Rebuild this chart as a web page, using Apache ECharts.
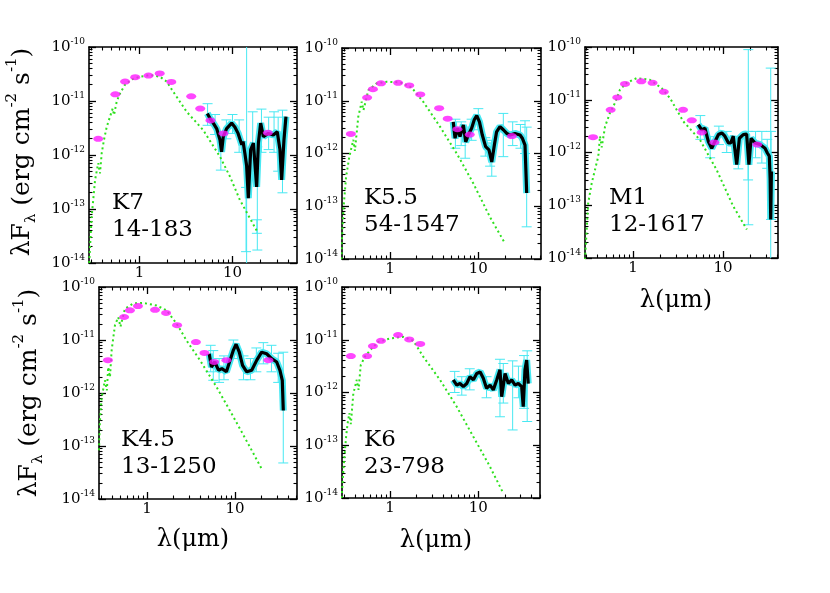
<!DOCTYPE html>
<html>
<head>
<meta charset="utf-8">
<script src="https://cdn.jsdelivr.net/npm/echarts@6/dist/echarts.min.js"></script>
<style>
  html, body { margin: 0; background: #fff; }
  #chart { width: 830px; height: 593px; }
</style>
</head>
<body>
<div id="chart"></div>
<script>
// values: wavelength in micron, log10(lambda F_lambda) in erg cm-2 s-1
// photometry [lam, lgF]
const k7Phot = [[0.36, -11.70], [0.55, -10.876], [0.70, -10.64], [0.90, -10.56], [1.25, -10.53], [1.65, -10.49],
  [2.2, -10.648], [3.6, -10.914], [4.5, -11.14], [5.8, -11.36], [8.0, -11.60], [24, -11.59]]
const k55Phot = [[0.36, -11.63], [0.55, -10.94], [0.64, -10.78], [0.79, -10.67], [1.235, -10.66], [1.65, -10.71],
  [2.2, -10.88], [3.6, -11.14], [4.5, -11.34], [5.8, -11.54], [8.0, -11.64], [24, -11.67]]
const m1Phot = [[0.36, -11.71], [0.565, -11.19], [0.67, -10.955], [0.815, -10.70], [1.235, -10.65], [1.65, -10.68],
  [2.2, -10.85], [3.6, -11.19], [4.5, -11.39], [5.8, -11.62], [8.0, -11.81], [24, -11.85]]
const k45Phot = [[0.36, -11.38], [0.55, -10.566], [0.64, -10.44], [0.79, -10.36], [1.235, -10.43], [1.65, -10.49],
  [2.2, -10.72], [3.6, -11.04], [4.5, -11.245], [5.8, -11.415], [8.0, -11.38], [24, -11.38]]
const k6Phot = [[0.36, -11.31], [0.55, -11.31], [0.64, -11.12], [0.79, -11.02], [1.235, -10.91], [1.65, -10.995], [2.2, -11.08]]

// photosphere models [lam, lgF]
const k7Model = [[0.288, -14.0], [0.294, -13.70], [0.306, -13.14], [0.333, -12.46], [0.36, -12.15], [0.376, -12.34],
  [0.392, -11.97], [0.415, -11.72], [0.444, -11.48], [0.482, -11.29], [0.515, -11.14], [0.532, -11.26], [0.569, -11.01],
  [0.617, -10.86], [0.698, -10.70], [0.824, -10.60], [1.01, -10.55], [1.30, -10.52], [1.66, -10.55], [1.96, -10.64],
  [2.31, -10.83], [3.22, -11.20], [4.85, -11.54], [7.34, -12.03], [9.4, -12.40], [12.0, -12.83], [18.9, -13.45]]
const k55Model = [[0.282, -14.1], [0.284, -13.70], [0.296, -13.07], [0.318, -12.44], [0.346, -12.06], [0.384, -11.74],
  [0.40, -11.95], [0.437, -11.30], [0.478, -11.02], [0.50, -11.18], [0.568, -10.80], [0.707, -10.67], [0.917, -10.64],
  [1.30, -10.65], [1.76, -10.75], [2.38, -11.02], [3.68, -11.49], [5.7, -12.0], [8.8, -12.57], [13.5, -13.2], [20, -13.7]]
const m1Model = [[0.293, -14.03], [0.306, -13.46], [0.318, -12.96], [0.348, -12.58], [0.378, -12.33], [0.412, -12.07],
  [0.43, -11.69], [0.45, -11.9], [0.489, -11.51], [0.555, -11.25], [0.631, -11.06], [0.717, -10.81], [0.851, -10.68],
  [1.10, -10.59], [1.54, -10.62], [2.08, -10.78], [2.58, -10.97], [3.62, -11.41], [5.55, -11.76], [8.5, -12.33],
  [13.0, -13.02], [18.4, -13.46]]
const k45Model = [[0.285, -13.08], [0.292, -12.52], [0.306, -12.08], [0.333, -11.76], [0.35, -11.95], [0.363, -11.51],
  [0.38, -11.7], [0.397, -11.19], [0.433, -10.72], [0.472, -10.57], [0.50, -10.75], [0.562, -10.41], [0.70, -10.31],
  [0.908, -10.30], [1.29, -10.35], [1.67, -10.44], [2.17, -10.69], [2.82, -11.01], [4.0, -11.38], [6.2, -11.89],
  [9.6, -12.45], [14.8, -13.02], [20.1, -13.43]]
const k6Model = [[0.283, -14.0], [0.296, -13.465], [0.318, -12.84], [0.33, -12.6], [0.346, -12.39], [0.36, -12.6],
  [0.384, -12.02], [0.42, -11.76], [0.44, -11.95], [0.466, -11.48], [0.52, -11.32], [0.594, -11.2], [0.737, -11.04],
  [1.0, -10.975], [1.41, -10.945], [1.84, -11.02], [2.38, -11.32], [3.68, -11.76], [5.7, -12.27], [8.8, -12.84],
  [13.5, -13.40], [19.2, -13.91]]

// IRS spectra [lam, lgF]
const k7Irs = [[5.36, -11.23], [5.73, -11.32], [6.22, -11.41], [6.76, -11.51], [7.34, -11.72], [7.64, -11.94],
  [7.96, -11.66], [8.65, -11.51], [9.8, -11.41], [10.6, -11.48], [11.5, -11.60], [12.6, -11.81], [13.0, -11.75],
  [13.6, -11.97], [14.2, -12.2], [14.8, -12.8], [15.7, -11.90], [16.8, -11.78], [18.2, -12.59], [19.0, -11.78],
  [20.1, -11.41], [21.5, -11.66], [24.3, -11.60], [27.5, -11.63], [30.3, -11.57], [32.4, -11.90], [33.8, -12.46],
  [35.8, -11.72], [37.6, -11.29]]
const k55Irs = [[5.2, -11.40], [5.45, -11.71], [5.84, -11.52], [6.2, -11.68], [6.77, -11.46], [7.2, -11.78],
  [7.7, -11.65], [8.4, -11.52], [9.0, -11.36], [9.6, -11.28], [10.3, -11.40], [11.1, -11.65], [12.1, -11.87],
  [13.2, -11.93], [14.2, -12.16], [15.2, -11.84], [16.1, -11.59], [17.6, -11.49], [19.2, -11.55], [21, -11.62],
  [22.9, -11.65], [26, -11.62], [29.7, -11.65], [31.5, -11.71], [33.8, -11.84], [35.3, -12.75]]
const m1Irs = [[5.32, -11.47], [5.8, -11.57], [6.3, -11.54], [6.87, -11.79], [7.5, -11.92], [8.15, -11.79],
  [8.9, -11.66], [9.7, -11.63], [10.5, -11.69], [11.5, -11.82], [12.2, -11.82], [13.0, -11.69], [14.2, -12.23],
  [15.2, -11.73], [16.8, -11.66], [18.3, -11.65], [19.4, -12.23], [20.5, -11.73], [22.7, -11.82], [25.8, -11.85],
  [29.3, -11.92], [31.1, -12.01], [32.7, -12.07], [33.4, -12.5], [33.9, -13.27], [34.5, -12.36]]
const k45Irs = [[5.1, -11.26], [5.4, -11.51], [5.9, -11.415], [6.5, -11.57], [7.1, -11.54], [8.0, -11.60],
  [8.8, -11.38], [9.6, -11.19], [10.3, -11.08], [11.2, -11.23], [12.2, -11.48], [13.6, -11.60], [15.5, -11.57],
  [17.7, -11.38], [20.1, -11.23], [22.9, -11.26], [26.1, -11.35], [29.8, -11.415], [32.4, -11.57], [34.5, -11.76],
  [35.4, -12.33]]
const k6Irs = [[5.2, -11.76], [5.7, -11.86], [6.2, -11.83], [6.77, -11.89], [7.4, -11.83], [8.05, -11.70],
  [8.8, -11.76], [9.6, -11.64], [10.5, -11.61], [11.4, -11.73], [12.4, -11.92], [13.6, -11.86], [14.8, -11.95],
  [16.2, -11.76], [17.6, -11.57], [18.4, -12.08], [20.1, -11.64], [21.9, -11.83], [23.9, -11.76], [26.1, -11.86],
  [28.4, -11.83], [31, -11.89], [32.3, -12.27], [33.8, -11.57], [35.3, -11.385], [36.8, -11.83]]

// error bars [lam, lgF low, lgF high]
const k7Err = [[5.4, -11.45, -11.05], [6.5, -11.62, -11.25], [7.5, -12.28, -11.6], [8.6, -11.7, -11.35],
  [10.0, -11.6, -11.25], [11.8, -11.95, -11.35], [14.2, -14.5, -9.5], [14.0, -13.79, -12.6], [16.5, -12.3, -11.2],
  [18.5, -13.76, -11.85], [18.3, -13.45, -13.2], [20.5, -11.95, -11.15], [24.5, -11.9, -11.3], [28, -11.95, -11.2],
  [31, -12.3, -11.3], [34.5, -12.7, -11.17]]
const k55Err = [[5.5, -11.9, -11.35], [6.4, -11.85, -11.4], [7.1, -12.09, -11.5], [8.4, -11.75, -11.35],
  [10.0, -11.55, -11.15], [12.0, -12.05, -11.7], [13.6, -12.24, -11.8], [14.2, -12.43, -11.75], [19.2, -12.06, -11.24],
  [24.5, -11.85, -11.4], [30, -11.9, -11.45], [33.8, -12.0, -11.38], [35.3, -13.39, -11.5]]
const m1Err = [[5.6, -11.75, -11.3], [7.2, -12.1, -11.7], [9.0, -11.85, -11.5], [11.0, -12.0, -11.6],
  [14.8, -12.31, -11.75], [19.1, -13.37, -10.05], [19.0, -12.52, -11.6], [23, -12.1, -11.6], [27, -12.2, -11.6],
  [31, -12.3, -11.75], [33.9, -14.5, -10.40], [34.2, -13.27, -11.6]]
const k45Err = [[5.3, -11.6, -11.1], [5.67, -11.76, -11.2], [6.6, -11.8, -11.35], [7.5, -11.75, -11.3],
  [9.6, -11.35, -11.0], [12.5, -11.75, -11.3], [15, -11.75, -11.35], [17.5, -11.6, -11.15], [21, -11.45, -11.05],
  [26, -11.6, -11.1], [31, -11.8, -11.25], [35.4, -13.32, -11.23]]
const k6Err = [[5.4, -12.0, -11.6], [6.5, -12.05, -11.7], [8.0, -11.95, -11.55], [12.4, -12.1, -11.7],
  [17.6, -12.46, -11.37], [19.2, -12.2, -11.45], [24.5, -12.71, -11.4], [28.5, -12.1, -11.5], [33, -12.3, -11.3],
  [35.8, -12.55, -11.21]]

const spTypes = ['K7', 'K5.5', 'M1', 'K4.5', 'K6']
const ids = ['14-183', '54-1547', '12-1617', '13-1250', '23-798']
const xTickLabels = [1, 10]
const yTickExps = [-14, -13, -12, -11, -10]

const panels = [
  { phot: k7Phot, model: k7Model, irs: k7Irs, err: k7Err },
  { phot: k55Phot, model: k55Model, irs: k55Irs, err: k55Err },
  { phot: m1Phot, model: m1Model, irs: m1Irs, err: m1Err },
  { phot: k45Phot, model: k45Model, irs: k45Irs, err: k45Err },
  { phot: k6Phot, model: k6Model, irs: k6Irs, err: k6Err }
]

// frame boxes (px) and axis ranges in log10(lambda)
const frames = [
  { left: 89, top: 47, width: 208, height: 216, xmin: -0.543, xmax: 1.694, tx: 112, ty: 203 },
  { left: 342, top: 48, width: 199, height: 211, xmin: -0.544, xmax: 1.710, tx: 364, ty: 198 },
  { left: 585, top: 47, width: 193, height: 211, xmin: -0.533, xmax: 1.611, tx: 609, ty: 198 },
  { left: 99, top: 287, width: 198, height: 212, xmin: -0.545, xmax: 1.705, tx: 121, ty: 440 },
  { left: 342, top: 287, width: 198, height: 211, xmin: -0.544, xmax: 1.699, tx: 364, ty: 440 }
]

const FONT = 'DejaVu Serif'
const CYAN = '#48e8f2'
const lg = Math.log10

const xMinorAll = []
;[0.1, 1, 10].forEach(d => { for (let k = 2; k <= 9; k++) xMinorAll.push(lg(k * d)) })
const yMinorAll = []
for (let d = -14; d <= -11; d++) for (let k = 2; k <= 9; k++) yMinorAll.push(d + lg(k))

function renderBar (params, api) {
  const cs = params.coordSys
  const pLo = api.coord([api.value(0), api.value(1)])
  const pHi = api.coord([api.value(0), api.value(2)])
  const x = pLo[0]
  const top = cs.y
  const bot = cs.y + cs.height
  if (x < cs.x || x > cs.x + cs.width) return
  const clampY = y => Math.max(top, Math.min(bot, y))
  const kids = [{
    type: 'line',
    shape: { x1: x, y1: clampY(pHi[1]), x2: x, y2: clampY(pLo[1]) },
    style: { stroke: CYAN, lineWidth: 1 }
  }]
  ;[pLo[1], pHi[1]].forEach(y => {
    if (y >= top && y <= bot) {
      kids.push({ type: 'line', shape: { x1: x - 5, y1: y, x2: x + 5, y2: y }, style: { stroke: CYAN, lineWidth: 1 } })
    }
  })
  return { type: 'group', children: kids }
}

const grid = []
const xAxis = []
const yAxis = []
const series = []
const graphic = []

frames.forEach((f, i) => {
  grid.push({ left: f.left, top: f.top, width: f.width, height: f.height, outerBoundsMode: 'none' })
  const xMinor = xMinorAll.filter(v => v > f.xmin && v < f.xmax)
  const yMinor = yMinorAll
  const frameLine = { show: true, onZero: false, lineStyle: { color: '#000', width: 1.6 } }
  const noLine = { show: false, onZero: false }
  const xBase = { type: 'value', gridIndex: i, min: f.xmin, max: f.xmax, splitLine: { show: false } }
  const yBase = { type: 'value', gridIndex: i, min: -14, max: -10, splitLine: { show: false } }
  const majTick = vals => ({ show: true, inside: true, length: 7, customValues: vals, lineStyle: { color: '#000', width: 1.3 } })
  const minTick = vals => ({ show: true, inside: true, length: 3.5, customValues: vals, lineStyle: { color: '#000', width: 1.1 } })

  xAxis.push(Object.assign({}, xBase, {
    position: 'bottom',
    axisLine: frameLine,
    axisTick: majTick(xTickLabels.map(lg)),
    axisLabel: {
      show: true, customValues: xTickLabels.map(lg), margin: 3,
      formatter: v => String(Math.round(Math.pow(10, v))),
      fontFamily: FONT, fontSize: 15, color: '#000'
    }
  }))
  xAxis.push(Object.assign({}, xBase, { position: 'bottom', axisLine: noLine, axisTick: minTick(xMinor), axisLabel: { show: false } }))
  xAxis.push(Object.assign({}, xBase, { position: 'top', axisLine: frameLine, axisTick: majTick(xTickLabels.map(lg)), axisLabel: { show: false } }))
  xAxis.push(Object.assign({}, xBase, { position: 'top', axisLine: noLine, axisTick: minTick(xMinor), axisLabel: { show: false } }))

  yAxis.push(Object.assign({}, yBase, {
    position: 'left',
    axisLine: frameLine,
    axisTick: majTick(yTickExps),
    axisLabel: {
      show: true, customValues: yTickExps, margin: 4,
      formatter: v => '{b|10}{s|' + Math.round(v) + '}',
      rich: {
        b: { fontFamily: FONT, fontSize: 15, lineHeight: 20, color: '#000' },
        s: { fontFamily: FONT, fontSize: 9, lineHeight: 12, verticalAlign: 'top', color: '#000' }
      }
    }
  }))
  yAxis.push(Object.assign({}, yBase, { position: 'left', axisLine: noLine, axisTick: minTick(yMinor), axisLabel: { show: false } }))
  yAxis.push(Object.assign({}, yBase, { position: 'right', axisLine: frameLine, axisTick: majTick(yTickExps), axisLabel: { show: false } }))
  yAxis.push(Object.assign({}, yBase, { position: 'right', axisLine: noLine, axisTick: minTick(yMinor), axisLabel: { show: false } }))

  const p = panels[i]
  const ax = { xAxisIndex: 4 * i, yAxisIndex: 4 * i }
  const toXY = arr => arr.map(d => [lg(d[0]), d[1]])

  series.push(Object.assign({
    type: 'line', data: toXY(p.irs), showSymbol: false, silent: true, z: 1,
    lineStyle: { color: CYAN, width: 7 }
  }, ax))
  series.push(Object.assign({
    type: 'custom', data: p.err.map(e => [lg(e[0]), e[1], e[2]]), renderItem: renderBar,
    encode: { x: 0, y: [1, 2] }, silent: true, z: 2
  }, ax))
  series.push(Object.assign({
    type: 'line', data: toXY(p.model), showSymbol: false, silent: true, z: 3,
    lineStyle: { color: '#2ee01e', width: 2, type: [2, 3] }
  }, ax))
  series.push(Object.assign({
    type: 'line', data: toXY(p.irs), showSymbol: false, silent: true, z: 4,
    lineStyle: { color: '#000', width: 3.2 }
  }, ax))
  series.push(Object.assign({
    type: 'scatter', data: toXY(p.phot), symbol: 'circle', symbolSize: [10, 6], silent: true, z: 5,
    itemStyle: { color: '#ff18ff' }
  }, ax))

  graphic.push({
    type: 'text', x: f.tx, y: f.ty,
    style: { text: spTypes[i], fontFamily: FONT, fontSize: 23, fill: '#000', textVerticalAlign: 'middle' }
  })
  graphic.push({
    type: 'text', x: f.tx, y: f.ty + 27,
    style: { text: ids[i], fontFamily: FONT, fontSize: 23, fill: '#000', textVerticalAlign: 'middle' }
  })
})

const yTitleRich = {
  t: { fontFamily: FONT, fontSize: 25, lineHeight: 34, fill: '#000' },
  sub: { fontFamily: FONT, fontSize: 15, lineHeight: 18, verticalAlign: 'bottom', fill: '#000' },
  sup: { fontFamily: FONT, fontSize: 15, lineHeight: 18, verticalAlign: 'top', fill: '#000' }
}
const yTitle = '{t|λF}{sub|λ}{t| (erg cm}{sup|-2}{t| s}{sup|-1}{t|)}'
;[[22, 152], [29, 393]].forEach(([x, y]) => {
  graphic.push({
    type: 'text', x: x, y: y, rotation: Math.PI / 2,
    style: { text: yTitle, rich: yTitleRich, textAlign: 'center', textVerticalAlign: 'middle' }
  })
})
;[[676, 301], [193, 540], [436, 541]].forEach(([x, y]) => {
  graphic.push({
    type: 'text', x: x, y: y,
    style: { text: 'λ(μm)', fontFamily: FONT, fontSize: 24, fill: '#000', textAlign: 'center', textVerticalAlign: 'middle' }
  })
})

const chart = echarts.init(document.getElementById('chart'))
chart.setOption({
  animation: false,
  backgroundColor: '#fff',
  grid, xAxis, yAxis, series, graphic
})
</script>
</body>
</html>
